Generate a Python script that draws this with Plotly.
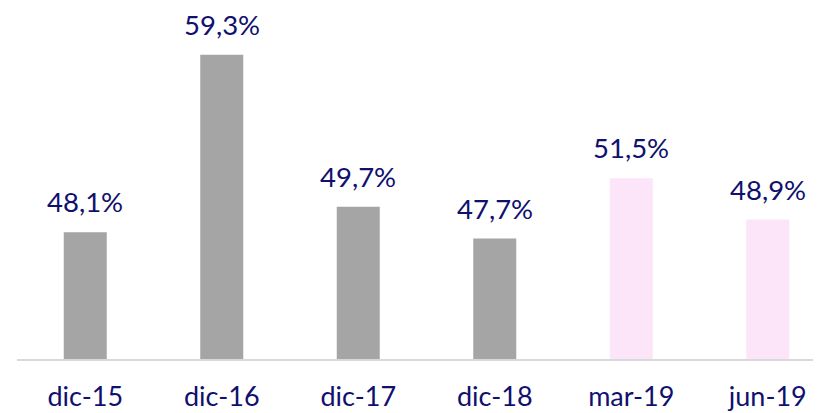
import plotly.graph_objects as go

categories = ["dic-15", "dic-16", "dic-17", "dic-18", "mar-19", "jun-19"]
values = [48.1, 59.3, 49.7, 47.7, 51.5, 48.9]
labels = ["48,1%", "59,3%", "49,7%", "47,7%", "51,5%", "48,9%"]
bar_colors = ["#A5A5A5", "#A5A5A5", "#A5A5A5", "#A5A5A5", "#FCE4F9", "#FCE4F9"]

TEXT_COLOR = "#10106E"
FONT = "Lato, 'Open Sans', sans-serif"

fig = go.Figure()
fig.add_trace(go.Bar(
    x=list(range(len(categories))),
    y=values,
    width=0.315,
    marker=dict(color=bar_colors, line=dict(width=0)),
    hoverinfo="skip",
))

for i, (v, t) in enumerate(zip(values, labels)):
    fig.add_annotation(
        x=i, y=v, text=t, showarrow=False,
        yanchor="bottom", yshift=12,
        font=dict(family=FONT, size=27.5, color=TEXT_COLOR),
    )

# the page body adds an 8px margin; the figure is sized to fill the rest
fig.update_layout(
    width=813, height=405,
    margin=dict(l=9, r=0, t=0, b=53.5, autoexpand=False),
    paper_bgcolor="white", plot_bgcolor="white",
    showlegend=False,
    font=dict(family=FONT, size=27, color=TEXT_COLOR),
)
fig.update_xaxes(
    range=[-0.5, 5.39],
    tickvals=list(range(len(categories))),
    ticktext=categories,
    showline=True, linecolor="#D9D9D9", linewidth=2,
    showgrid=False, zeroline=False,
    ticks="outside", ticklen=13, tickcolor="rgba(0,0,0,0)",
    tickfont=dict(family=FONT, size=27, color=TEXT_COLOR),
    automargin=False,
)
fig.update_yaxes(
    range=[40.1, 62.25],
    visible=False, showgrid=False, zeroline=False,
    automargin=False,
)

fig.write_html("out.html")
